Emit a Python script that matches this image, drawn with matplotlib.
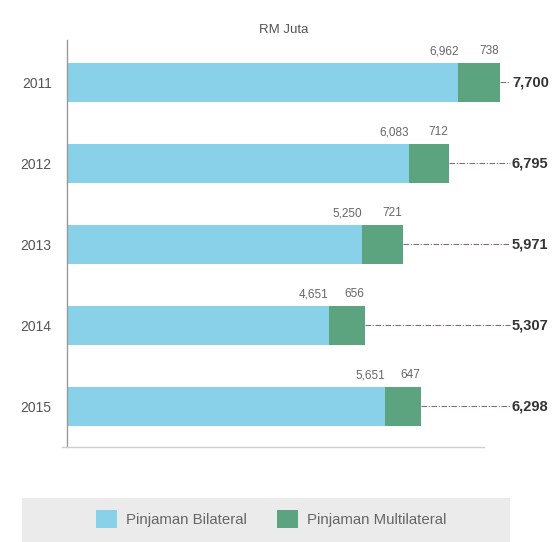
import matplotlib
matplotlib.use('Agg')
import matplotlib.pyplot as plt
from matplotlib.patches import Rectangle
import numpy as np

plt.rcParams['font.family'] = ['Liberation Sans', 'DejaVu Sans']

YEARS = ['2011', '2012', '2013', '2014', '2015']
BILATERAL = [6962, 6083, 5250, 4651, 5651]
MULTILATERAL = [738, 712, 721, 656, 647]
TOTALS = [7700, 6795, 5971, 5307, 6298]
LEGEND_LABELS = ['Pinjaman Bilateral', 'Pinjaman Multilateral']

BLUE = '#89d1e9'
GREEN = '#5ba47f'

fig = plt.figure(figsize=(5.6, 5.42), dpi=100)
W, H = 560, 542
ax = fig.add_axes([67 / W, 1 - 447 / H, (555 - 67) / W, (447 - 40) / H])

px_per_unit = (500 - 67) / 7700.0
xmax = (555 - 67) / px_per_unit
ax.set_xlim(0, xmax)
ax.set_ylim(4.5, -0.52)

y = np.arange(len(YEARS))
h = 0.48
b1 = ax.barh(y, BILATERAL, height=h, color=BLUE, label=LEGEND_LABELS[0])
b2 = ax.barh(y, MULTILATERAL, left=BILATERAL, height=h, color=GREEN,
             label=LEGEND_LABELS[1])

line_end = (510 - 67) / px_per_unit
text_x = (512 - 67) / px_per_unit
for i in range(len(YEARS)):
    bil, mul, tot = BILATERAL[i], MULTILATERAL[i], TOTALS[i]
    ax.text(bil, i - h / 2 - 0.07, f'{bil:,}', ha='right', va='bottom',
            fontsize=8.5, color='#666666')
    ax.text(bil + mul - 20, i - h / 2 - 0.07, f'{mul:,}', ha='right', va='bottom',
            fontsize=8.5, color='#666666')
    ax.plot([bil + mul, line_end], [i, i], color='#8a6a78', lw=0.8,
            ls=(0, (5, 1.5, 1, 1.5)))
    ax.text(text_x, i, f'{tot:,}', ha='left', va='center', fontsize=10.5,
            fontweight='bold', color='#333333')

ax.set_yticks(y)
ax.set_yticklabels(YEARS, fontsize=10, color='#555555')
ax.tick_params(axis='y', length=0, pad=11)
ax.set_xticks([])
for s in ['top', 'right']:
    ax.spines[s].set_visible(False)
ax.spines['left'].set_color('#999999')
ax.spines['left'].set_linewidth(1.0)
ax.spines['bottom'].set_color('#d0d0d0')
ax.spines['bottom'].set_linewidth(1.0)
ax.spines['bottom'].set_bounds(-90, (484 - 67) / px_per_unit)

fig.text(284 / W, 1 - 30 / H, 'RM Juta', ha='center', va='center',
         fontsize=9.5, color='#555555')

fig.patches.append(Rectangle((22 / W, 0), (510 - 22) / W, (542 - 498) / H,
                             transform=fig.transFigure, facecolor='#ebebeb',
                             edgecolor='none', zorder=0))
leg = fig.legend(handles=[b1, b2], labels=LEGEND_LABELS, loc='center',
                 bbox_to_anchor=(271 / W, 1 - 519 / H), ncol=2, frameon=False,
                 fontsize=10.8, handlelength=1.4, handleheight=1.4,
                 handletextpad=0.6, columnspacing=2.0)
for t in leg.get_texts():
    t.set_color('#666666')

fig.savefig('out.png', dpi=100)
